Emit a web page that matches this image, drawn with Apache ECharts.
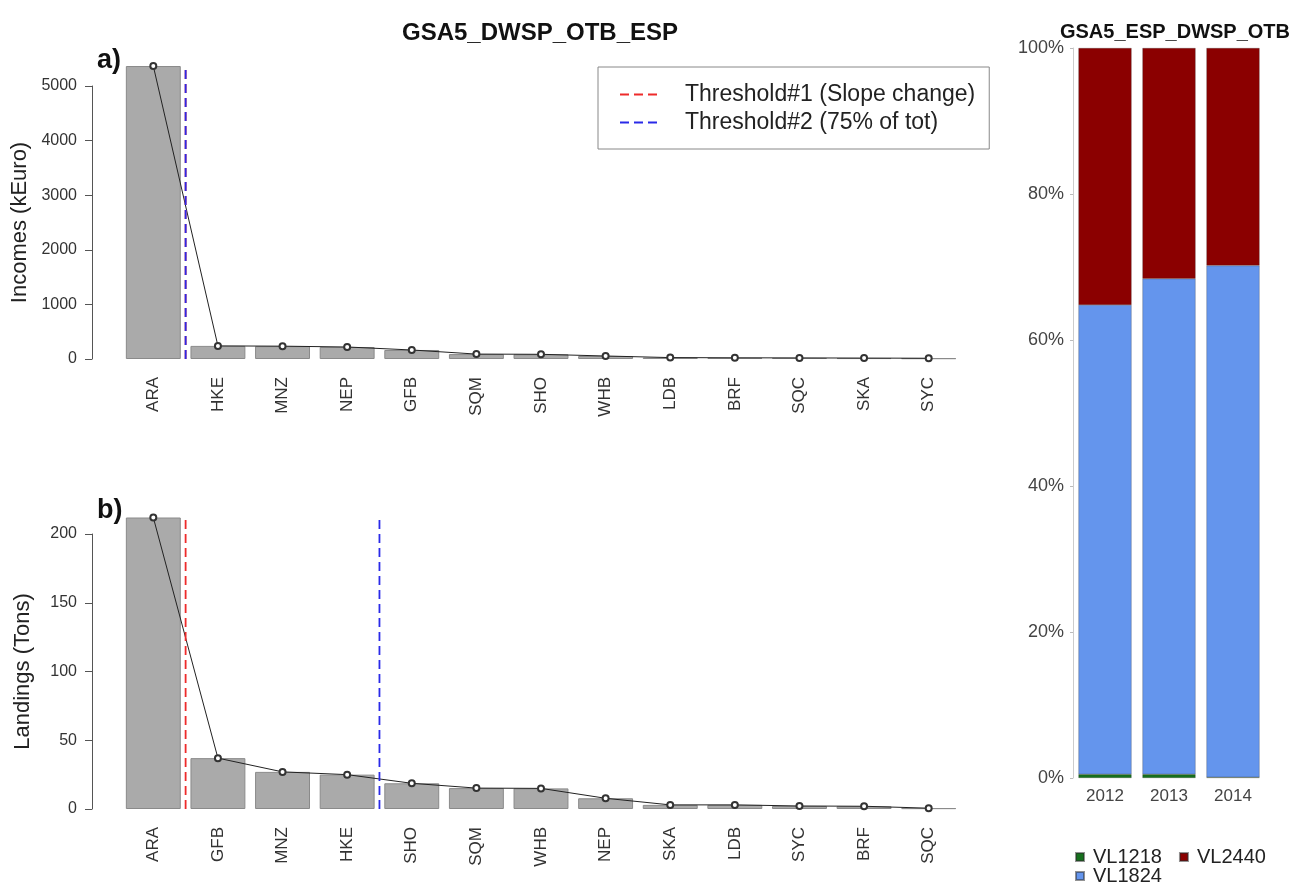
<!DOCTYPE html>
<html>
<head>
<meta charset="utf-8">
<script src="https://cdn.jsdelivr.net/npm/echarts@6/dist/echarts.min.js"></script>
</head>
<body style="margin:0; background:#fff">
<div id="container" style="width:1292px; height:884px"></div>
<script>
// a) incomes by species (kEuro)
var speciesA = ['ARA','HKE','MNZ','NEP','GFB','SQM','SHO','WHB','LDB','BRF','SQC','SKA','SYC'];
var incomes  = [5366, 240, 235, 220, 165, 90, 86, 55, 26, 22, 20, 17, 14];
// b) landings by species (Tons)
var speciesB = ['ARA','GFB','MNZ','HKE','SHO','SQM','WHB','NEP','SKA','LDB','SYC','BRF','SQC'];
var landings = [212, 37, 27, 25, 18.7, 15.2, 15, 7.8, 3, 3, 2.2, 2, 0.6];
// threshold positions (between categories) [slope change, 75% of tot]
var thrA = [0.5, 0.5];
var thrB = [0.5, 3.5];
// right panel: share by vessel length class (%)
var years  = ['2012','2013','2014'];
var vl1218 = [0.5, 0.5, 0.1];
var vl1824 = [64.3, 67.9, 70.1];
var vl2440 = [35.2, 31.6, 29.8];

var FONT = 'Liberation Sans, Arial, sans-serif';
var RED = '#ee2b2b', BLUE = '#2a2ae8';
var thrNames = ['Threshold#1 (Slope change)', 'Threshold#2 (75% of tot)'];

function vline(x, top) { return [[x, 0], [x, top]]; }

function yAx(grid, max, step, name) {
    return {
        type: 'value', gridIndex: grid, min: 0, max: max, interval: step, offset: 29,
        name: name, nameLocation: 'middle', nameGap: 58,
        nameTextStyle: {fontSize: 22, color: '#222', fontFamily: FONT},
        axisLine: {show: true, onZero: false, lineStyle: {color: '#555'}},
        axisTick: {show: true, length: 7, lineStyle: {color: '#555'}},
        axisLabel: {fontSize: 16, color: '#333', fontFamily: FONT, margin: 15,
                    formatter: function (v) { return String(v); }},
        splitLine: {show: false}
    };
}
function xCat(grid, data) {
    return {
        type: 'category', gridIndex: grid, data: data,
        axisLine: {show: false}, axisTick: {show: false},
        axisLabel: {rotate: 90, fontSize: 17, color: '#333', fontFamily: FONT, margin: 18}
    };
}
function xVal(grid) {
    return {type: 'value', gridIndex: grid, min: -0.5, max: 12.5, show: false};
}
function bars(name, grid, data) {
    return {
        name: name, type: 'bar', xAxisIndex: grid * 2, yAxisIndex: grid, data: data,
        barCategoryGap: '15%', clip: false, silent: true,
        itemStyle: {color: '#aaaaaa', borderColor: '#8a8a8a', borderWidth: 1}
    };
}
function dots(name, grid, data) {
    return {
        name: name, type: 'line', xAxisIndex: grid * 2, yAxisIndex: grid, data: data,
        clip: false, symbol: 'emptyCircle', symbolSize: 6, z: 5,
        lineStyle: {color: '#222', width: 1}, itemStyle: {color: '#333', borderWidth: 1}
    };
}
function thr(i, grid, x, top) {
    return {
        name: thrNames[i], type: 'line', xAxisIndex: grid * 2 + 1, yAxisIndex: grid,
        data: vline(x, top), clip: false, symbol: 'none', z: 6,
        lineStyle: {color: i ? BLUE : RED, width: 1.8, type: [9, 5]},
        itemStyle: {color: i ? BLUE : RED}
    };
}
function stack(name, data, color) {
    return {
        name: name, type: 'bar', stack: 'vl', xAxisIndex: 4, yAxisIndex: 2, data: data,
        barCategoryGap: '17%', itemStyle: {color: color, borderColor: 'rgba(40,40,40,0.5)', borderWidth: 0.5}
    };
}

var myChart = echarts.init(document.getElementById('container'));
var option = {
    backgroundColor: '#fff',
    animation: false,
    textStyle: {fontFamily: FONT},
    title: [
        {text: 'GSA5_DWSP_OTB_ESP', left: 535, top: 16, textAlign: 'center',
         textStyle: {fontSize: 24, fontWeight: 'bold', color: '#111'}},
        {text: 'a)', left: 92, top: 42, textStyle: {fontSize: 27, fontWeight: 'bold', color: '#111'}},
        {text: 'b)', left: 92, top: 492, textStyle: {fontSize: 27, fontWeight: 'bold', color: '#111'}},
        {text: 'GSA5_ESP_DWSP_OTB', left: 1170, top: 17, textAlign: 'center',
         textStyle: {fontSize: 20, fontWeight: 'bold', color: '#111'}}
    ],
    legend: [
        {data: thrNames, orient: 'vertical', left: 598, top: 67,
         borderColor: '#888', borderWidth: 1, padding: [16, 14, 15, 21],
         itemGap: 5, itemWidth: 42, itemHeight: 14,
         itemStyle: {opacity: 0},
         textStyle: {fontSize: 23, color: '#222', padding: [0, 0, 0, 18]}},
        {data: ['VL1218', 'VL2440'], left: 1075, top: 847, padding: 0, itemGap: 17,
         icon: 'rect', itemWidth: 8, itemHeight: 8,
         textStyle: {fontSize: 20, color: '#222', padding: [0, 0, 0, 4]}},
        {data: ['VL1824'], left: 1075, top: 866, padding: 0,
         icon: 'rect', itemWidth: 8, itemHeight: 8,
         textStyle: {fontSize: 20, color: '#222', padding: [0, 0, 0, 4]}}
    ],
    grid: [
        {left: 121, width: 840, top: 86, height: 273, outerBoundsMode: 'none'},
        {left: 121, width: 840, top: 534, height: 275, outerBoundsMode: 'none'},
        {left: 1073, width: 192, top: 48, height: 730, outerBoundsMode: 'none'}
    ],
    xAxis: [
        xCat(0, speciesA), xVal(0),
        xCat(1, speciesB), xVal(1),
        {type: 'category', gridIndex: 2, data: years,
         axisLine: {show: false}, axisTick: {show: false},
         axisLabel: {fontSize: 17, color: '#444', margin: 10}}
    ],
    yAxis: [
        yAx(0, 5000, 1000, 'Incomes (kEuro)'),
        yAx(1, 200, 50, 'Landings (Tons)'),
        {type: 'value', gridIndex: 2, min: 0, max: 100, interval: 20,
         axisLine: {show: true, lineStyle: {color: '#ccc'}},
         axisTick: {show: true, length: 3, lineStyle: {color: '#bbb'}},
         axisLabel: {fontSize: 18, color: '#444', margin: 9, formatter: '{value}%'},
         splitLine: {show: false}}
    ],
    series: [
        bars('Incomes', 0, incomes),
        dots('IncomesLine', 0, incomes),
        thr(0, 0, thrA[0], Math.max.apply(null, incomes)),
        thr(1, 0, thrA[1], Math.max.apply(null, incomes)),
        bars('Landings', 1, landings),
        dots('LandingsLine', 1, landings),
        thr(0, 1, thrB[0], Math.max.apply(null, landings)),
        thr(1, 1, thrB[1], Math.max.apply(null, landings)),
        stack('VL1218', vl1218, '#16701d'),
        stack('VL1824', vl1824, '#6495ed'),
        stack('VL2440', vl2440, '#8b0000')
    ]
};
myChart.setOption(option, true);
</script>
</body>
</html>
